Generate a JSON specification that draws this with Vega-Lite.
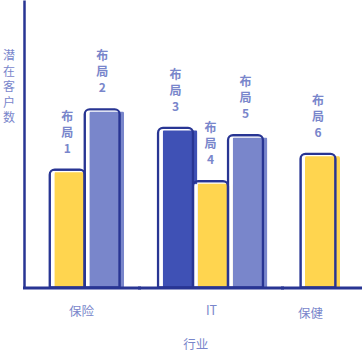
{
  "$schema": "https://vega.github.io/schema/vega-lite/v6.json",
  "padding": {"left": 2, "top": 0, "right": 0, "bottom": 0},
  "autosize": {"type": "pad"},
  "background": "white",
  "spacing": 0,
  "config": {"view": {"stroke": null}, "font": "Noto Sans CJK SC", "concat": {"spacing": 0}},
  "title": {"text": "行业", "orient": "bottom", "anchor": "middle", "fontSize": 12.5, "fontWeight": "normal", "color": "#7986CB", "offset": 19, "dx": 13},
  "datasets": {
    "sales": [
      {"industry": "保险", "layout": "布局1", "label": "布\n局\n1", "customers": 41},
      {"industry": "保险", "layout": "布局2", "label": "布\n局\n2", "customers": 62},
      {"industry": "IT", "layout": "布局3", "label": "布\n局\n3", "customers": 55.5},
      {"industry": "IT", "layout": "布局4", "label": "布\n局\n4", "customers": 37},
      {"industry": "IT", "layout": "布局5", "label": "布\n局\n5", "customers": 53},
      {"industry": "保健", "layout": "布局6", "label": "布\n局\n6", "customers": 46.5}
    ]
  },
  "hconcat": [
    {
      "width": 115, "height": 287.5,
      "data": {"name": "sales"},
      "transform": [{"filter": "datum.industry === '保险'"}],
      "encoding": {
        "x": {"field": "layout", "type": "nominal", "sort": null,
              "scale": {"paddingInner": 0, "paddingOuter": 0.643, "align": 0.571},
              "axis": {"labels": false, "ticks": false, "grid": false, "domainColor": "#283593", "domainWidth": 3, "domainCap": "square", "title": "保险", "titleColor": "#7986CB", "titleFontSize": 12.5, "titleFontWeight": "normal", "titlePadding": 18, "titleX": 57, "titleAlign": "center", "zindex": 1}},
        "y": {"field": "customers", "type": "quantitative", "scale": {"domain": [0, 100]},
              "axis": {"labels": false, "ticks": false, "grid": false, "domainColor": "#283593", "domainWidth": 2.5, "title": ["潜", "在", "客", "户", "数"], "titleAngle": 0, "titleX": -15.5, "titleY": 50.5, "titleAlign": "center", "titleBaseline": "top", "titleLineHeight": 15.5, "titleColor": "#7986CB", "titleFontSize": 12, "titleFontWeight": "normal", "zindex": 1}}
      },
      "layer": [
        {"mark": {"type": "bar", "xOffset": 4.5, "yOffset": 2.5, "cornerRadiusTopLeft": 5, "cornerRadiusTopRight": 5},
         "encoding": {"color": {"field": "layout", "type": "nominal", "legend": null, "scale": {"domain": ["布局1", "布局2", "布局3", "布局4", "布局5", "布局6"], "range": ["#FFD54F", "#7986CB", "#3F51B5", "#FFD54F", "#7986CB", "#FFD54F"]}}}},
        {"mark": {"type": "bar", "width": 4.5, "xOffset": -15.25, "yOffset": 3, "color": "white"}},
        {"mark": {"type": "bar", "fill": "white", "fillOpacity": 0, "stroke": "#283593", "strokeWidth": 2.2, "cornerRadiusTopLeft": 5, "cornerRadiusTopRight": 5}},
        {"mark": {"type": "text", "baseline": "top", "dy": -58, "lineBreak": "\n", "lineHeight": 16, "fontSize": 12, "fontWeight": "bold", "color": "#7986CB"},
         "encoding": {"text": {"field": "label"}}}
      ]
    },
    {
      "width": 143, "height": 287.5,
      "data": {"name": "sales"},
      "transform": [{"filter": "datum.industry === 'IT'"}],
      "encoding": {
        "x": {"field": "layout", "type": "nominal", "sort": null,
              "scale": {"paddingInner": 0, "paddingOuter": 0.543, "align": 0.5},
              "axis": {"labels": false, "ticks": false, "grid": false, "domainColor": "#283593", "domainWidth": 3, "domainCap": "square", "title": "IT", "titleColor": "#7986CB", "titleFontSize": 12.5, "titleFontWeight": "normal", "titlePadding": 17, "titleX": 72, "titleAlign": "center", "zindex": 1}},
        "y": {"field": "customers", "type": "quantitative", "scale": {"domain": [0, 100]}, "axis": null}
      },
      "layer": [
        {"mark": {"type": "bar", "xOffset": 4.5, "yOffset": 2.5, "cornerRadiusTopLeft": 5, "cornerRadiusTopRight": 5},
         "encoding": {"color": {"field": "layout", "type": "nominal", "legend": null, "scale": {"domain": ["布局1", "布局2", "布局3", "布局4", "布局5", "布局6"], "range": ["#FFD54F", "#7986CB", "#3F51B5", "#FFD54F", "#7986CB", "#FFD54F"]}}}},
        {"mark": {"type": "bar", "width": 4.5, "xOffset": -15.25, "yOffset": 3, "color": "white"}},
        {"mark": {"type": "bar", "fill": "white", "fillOpacity": 0, "stroke": "#283593", "strokeWidth": 2.2, "cornerRadiusTopLeft": 5, "cornerRadiusTopRight": 5}},
        {"mark": {"type": "text", "baseline": "top", "dy": -58, "lineBreak": "\n", "lineHeight": 16, "fontSize": 12, "fontWeight": "bold", "color": "#7986CB"},
         "encoding": {"text": {"field": "label"}}}
      ]
    },
    {
      "width": 81, "height": 287.5,
      "data": {"name": "sales"},
      "transform": [{"filter": "datum.industry === '保健'"}],
      "encoding": {
        "x": {"field": "layout", "type": "nominal", "sort": null,
              "scale": {"paddingInner": 0, "paddingOuter": 0.657, "align": 0.402},
              "axis": {"labels": false, "ticks": false, "grid": false, "domainColor": "#283593", "domainWidth": 3, "domainCap": "square", "title": "保健", "titleColor": "#7986CB", "titleFontSize": 12.5, "titleFontWeight": "normal", "titlePadding": 20, "titleX": 28, "titleAlign": "center", "zindex": 1}},
        "y": {"field": "customers", "type": "quantitative", "scale": {"domain": [0, 100]}, "axis": null}
      },
      "layer": [
        {"mark": {"type": "bar", "xOffset": 4.5, "yOffset": 2.5, "cornerRadiusTopLeft": 5, "cornerRadiusTopRight": 5},
         "encoding": {"color": {"field": "layout", "type": "nominal", "legend": null, "scale": {"domain": ["布局1", "布局2", "布局3", "布局4", "布局5", "布局6"], "range": ["#FFD54F", "#7986CB", "#3F51B5", "#FFD54F", "#7986CB", "#FFD54F"]}}}},
        {"mark": {"type": "bar", "width": 4.5, "xOffset": -15.25, "yOffset": 3, "color": "white"}},
        {"mark": {"type": "bar", "fill": "white", "fillOpacity": 0, "stroke": "#283593", "strokeWidth": 2.2, "cornerRadiusTopLeft": 5, "cornerRadiusTopRight": 5}},
        {"mark": {"type": "text", "baseline": "top", "dy": -58, "lineBreak": "\n", "lineHeight": 16, "fontSize": 12, "fontWeight": "bold", "color": "#7986CB"},
         "encoding": {"text": {"field": "label"}}}
      ]
    }
  ]
}
